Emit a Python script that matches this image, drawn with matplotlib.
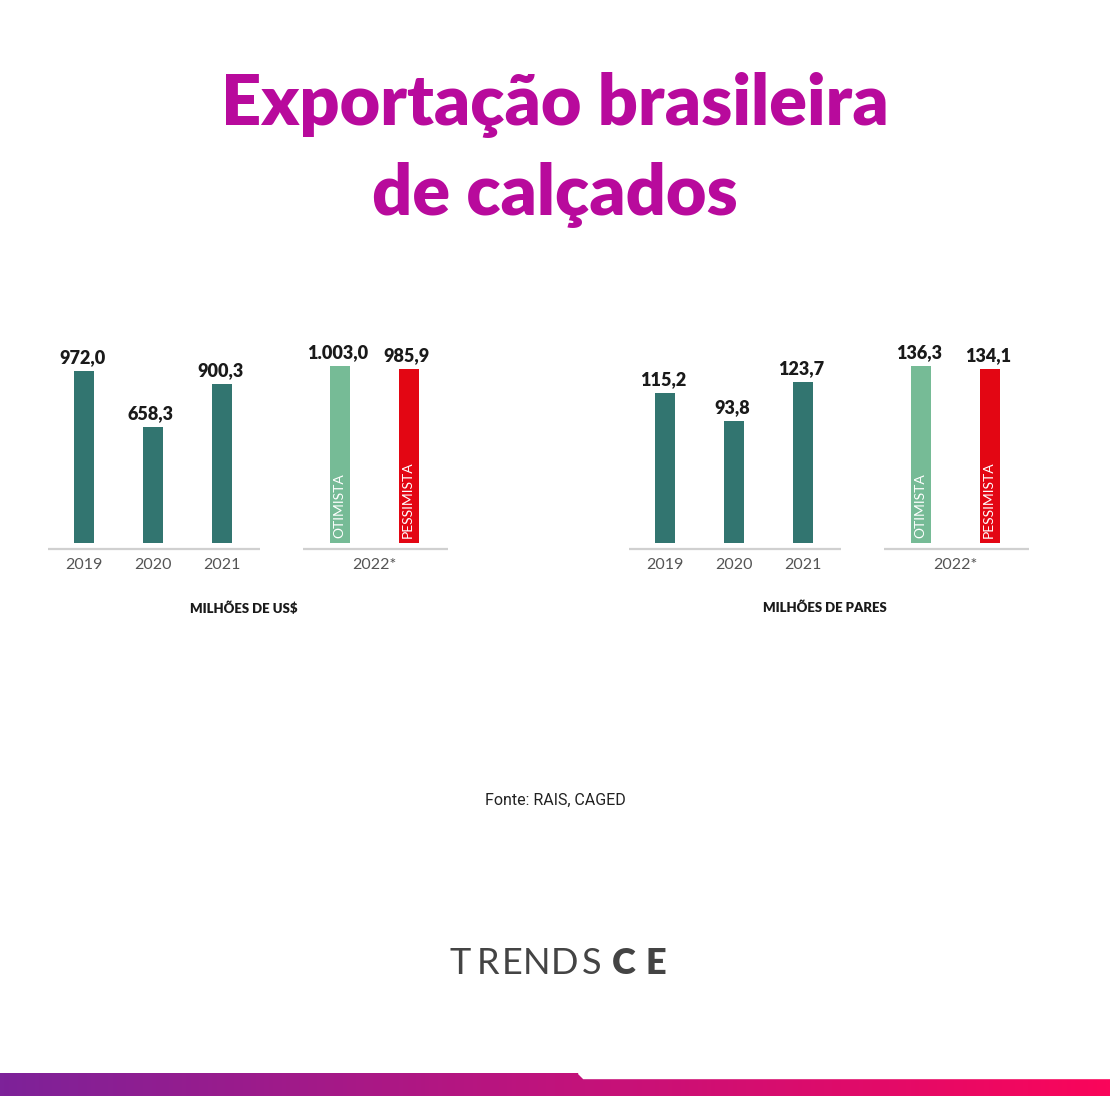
import numpy as np
import matplotlib.pyplot as plt
from matplotlib.colors import LinearSegmentedColormap

# data
years = ['2019', '2020', '2021']
scenarios = ['OTIMISTA', 'PESSIMISTA']
usd_values = [972.0, 658.3, 900.3]
usd_2022 = [1003.0, 985.9]
pairs_values = [115.2, 93.8, 123.7]
pairs_2022 = [136.3, 134.1]
forecast_label = '2022*'
units = ['MILHÕES DE US$', 'MILHÕES DE PARES']

TEAL = '#327570'
GREEN = '#76bb96'
RED = '#e30613'
MAGENTA = '#b80a9c'

W, H = 1110, 1096
fig = plt.figure(figsize=(W / 100, H / 100), dpi=100)
fig.patch.set_facecolor('white')


def fmt(v):
    s = f'{v:,.1f}'
    return s.replace(',', 'X').replace('.', ',').replace('X', '.')


def bar_panel(x_first_bar, values, forecast, ymax, unit, unit_x):
    unit_w = 69.0
    xlo, xhi = -0.8, 5.5
    top_px, zero_px, bot_px = 330, 543, 560
    left_px = x_first_bar + xlo * unit_w
    width_px = (xhi - xlo) * unit_w
    ax = fig.add_axes([left_px / W, 1 - bot_px / H, width_px / W, (bot_px - top_px) / H])
    per_px = ymax / (zero_px - top_px)
    ax.set_xlim(xlo, xhi)
    ax.set_ylim(-(bot_px - zero_px) * per_px, ymax)
    ax.axis('off')

    xs = np.arange(len(values))
    ax.bar(xs, values, width=0.29, color=TEAL)
    fx = np.array([3.71, 4.71])
    ax.bar(fx, forecast, width=0.29, color=[GREEN, RED])

    line_y = -6 * per_px
    ax.hlines(line_y, -0.52, 2.55, color='#d0d0d0', lw=1.6, clip_on=False)
    ax.hlines(line_y, 3.17, 5.28, color='#d0d0d0', lw=1.6, clip_on=False)

    for x, v in zip(list(xs) + list(fx), list(values) + list(forecast)):
        ax.annotate(fmt(v), xy=(x, v), xytext=(-2, 5), textcoords='offset pixels',
                    ha='center', va='bottom', fontsize=13, fontweight='heavy',
                    family='Lato', color='#1a1a1a', annotation_clip=False)
    for x, y in zip(xs, years):
        ax.annotate(y, xy=(x, 0), xytext=(0, -22), textcoords='offset pixels',
                    ha='center', va='center', fontsize=11.5, color='#555555',
                    family='Lato', annotation_clip=False)
    ax.annotate(forecast_label, xy=(fx.mean(), 0), xytext=(0, -22), textcoords='offset pixels',
                ha='center', va='center', fontsize=11.5, color='#555555',
                family='Lato', annotation_clip=False)
    for x, s in zip(fx, scenarios):
        ax.annotate(s, xy=(x, 0), xytext=(-1, 5), textcoords='offset pixels',
                    ha='center', va='bottom', rotation=90, fontsize=10,
                    color='white', family='Lato', annotation_clip=False)

    fig.text(unit_x / W, 1 - 608 / H, unit, ha='center', va='center',
             fontsize=9.5, fontweight='heavy', family='Lato', color='#1a1a1a')


bar_panel(84, usd_values, usd_2022, 1207, units[0], 244)
bar_panel(665, pairs_values, pairs_2022, 164, units[1], 825)

# title
fig.text(0.5, 1 - 105 / H, 'Exportação brasileira', ha='center', va='center',
         fontsize=50.5, fontweight='heavy', family='Lato', color=MAGENTA)
fig.text(0.5, 1 - 195 / H, 'de calçados', ha='center', va='center',
         fontsize=50.5, fontweight='heavy', family='Lato', color=MAGENTA)

# source
fig.text(0.5, 1 - 800 / H, 'Fonte: RAIS, CAGED', ha='center', va='center',
         fontsize=11.5, family=['Roboto', 'DejaVu Sans'], fontstretch='condensed',
         color='#222222')

# logo
logo = 'TRENDSCE'
centers = [460, 488, 512, 537, 565, 592, 624, 656]
for i, (ch, cx) in enumerate(zip(logo, centers)):
    fig.text(cx / W, 1 - 964 / H, ch, ha='center', va='center', fontsize=26,
             fontweight='heavy' if i >= 6 else 'normal', family='Lato', color='#444444')

# bottom gradient strip
gax = fig.add_axes([0, 0, 1, 23 / H])
cmap = LinearSegmentedColormap.from_list('g', ['#7d2299', '#c0137c', '#fa055a'])
gax.imshow(np.linspace(0, 1, 256)[None, :], aspect='auto', cmap=cmap,
           extent=[0, W, 0, 23])
gax.fill([583, W, W, 578], [18, 18, 23, 23], color='white')
gax.set_xlim(0, W)
gax.set_ylim(0, 23)
gax.axis('off')

fig.savefig('out.png', dpi=100, facecolor='white')
